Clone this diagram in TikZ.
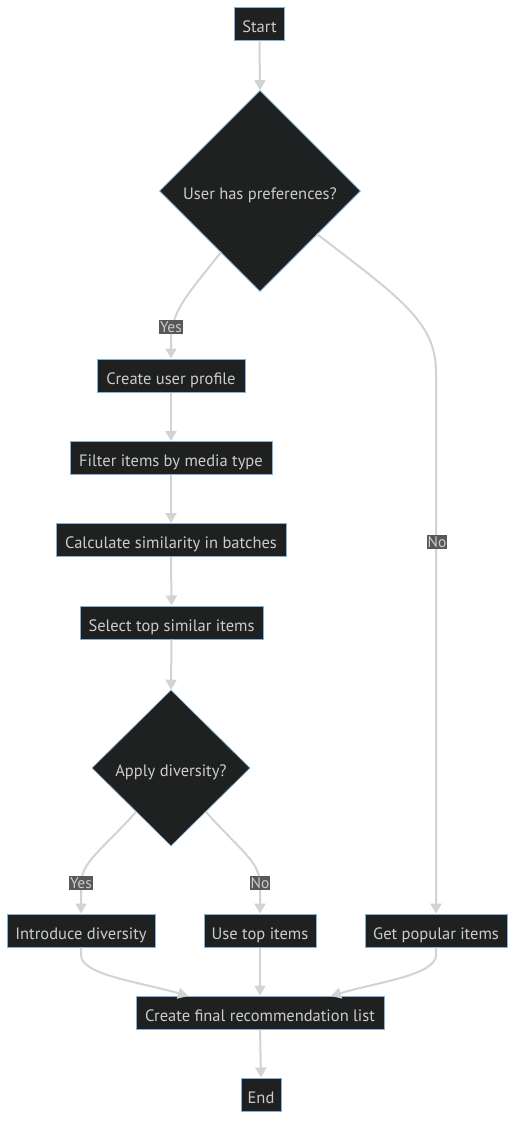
\documentclass[tikz,border=0pt]{standalone}
\usepackage{fontspec}
\setmainfont{PT Sans}
\usetikzlibrary{arrows.meta,shapes.geometric}
\definecolor{nodefill}{HTML}{1F2020}
\definecolor{nodeborder}{HTML}{81B1DB}
\definecolor{nodetext}{HTML}{CCCCCC}
\definecolor{edgecol}{HTML}{D3D3D3}
\definecolor{lblbg}{HTML}{585858}
\tikzset{
  box/.style={rectangle, fill=nodefill, draw=nodeborder, line width=1pt, text=nodetext,
    inner sep=0pt, minimum height=33pt, text height=17pt, text depth=0pt,
    font=\fontsize{16.5}{19}\selectfont},
  decide/.style={diamond, fill=nodefill, draw=nodeborder, line width=0.6pt,
    inner sep=0pt, aspect=1},
  dtext/.style={text=nodetext, inner sep=0pt, text height=17pt, text depth=0pt,
    font=\fontsize{16.5}{19}\selectfont},
  flow/.style={draw=edgecol, line width=2pt, -{Triangle[length=10pt,width=11pt]}},
  lbl/.style={fill=lblbg, text=nodetext, inner xsep=1pt, inner ysep=1.5pt,
    font=\fontsize{15.5}{17}\selectfont}
}
\begin{document}
\begin{tikzpicture}[x=1pt,y=-1pt]
\useasboundingbox[fill=white] (0,0) rectangle (524,1137);
\node[box, minimum width=50pt] (start) at (259.5,24.5) {Start};
\node[decide, minimum width=201pt, minimum height=201pt] (d1) at (260,191) {};
\node[dtext] (d1t) at (260,191) {User has preferences?};
\node[box, minimum width=148pt] (cup) at (171,375.5) {Create user profile};
\node[box, minimum width=202pt] (fil) at (171,458) {Filter items by media type};
\node[box, minimum width=230pt] (calc) at (171,540) {Calculate similarity in batches};
\node[box, minimum width=183pt] (sel) at (171.5,622.5) {Select top similar items};
\node[decide, minimum width=158pt, minimum height=156pt] (d2) at (171,768) {};
\node[dtext] (d2t) at (171,768) {Apply diversity?};
\node[box, minimum width=148pt] (intro) at (81,930.5) {Introduce diversity};
\node[box, minimum width=112pt] (ut) at (260,930.5) {Use top items};
\node[box, minimum width=142pt] (gpi) at (436,930.5) {Get popular items};
\node[box, minimum width=248pt] (fin) at (260,1012.5) {Create final recommendation list};
\node[box, minimum width=40pt] (end) at (261,1094.5) {End};

\coordinate (d1a) at (221,252);
\coordinate (d1b) at (317,234);
\coordinate (d2a) at (136,812);
\coordinate (d2b) at (206,812);
\coordinate (fa) at (188,996);
\coordinate (fb) at (331,996);

\draw[flow] (start.south) -- (d1.north);
\draw[flow] (d1a) .. controls (190,292) and (171,310) .. (171,340) -- (cup.north);
\draw[flow] (d1b) .. controls (400,298) and (436,322) .. (436,372) -- (gpi.north);
\draw[flow] (cup.south) -- (fil.north);
\draw[flow] (fil.south) -- (calc.north);
\draw[flow] (calc.south) -- (sel.north);
\draw[flow] (sel.south) -- (d2.north);
\draw[flow] (d2a) .. controls (100,852) and (81,862) .. (81,885) -- (intro.north);
\draw[flow] (d2b) .. controls (242,852) and (260,862) .. (260,885) -- (ut.north);
\draw[flow] (intro.south) -- (81,955) .. controls (81,975) and (140,982) .. (fa);
\draw[flow] (ut.south) -- (fin.north);
\draw[flow] (gpi.south) -- (436,955) .. controls (436,975) and (378,982) .. (fb);
\draw[flow] (fin.south) -- (end.north);

\node[lbl] (l1) at (171,327) {Yes};
\node[lbl] (l2) at (437,542) {No};
\node[lbl] (l3) at (81,883) {Yes};
\node[lbl] (l4) at (260,883) {No};
\end{tikzpicture}
\end{document}
